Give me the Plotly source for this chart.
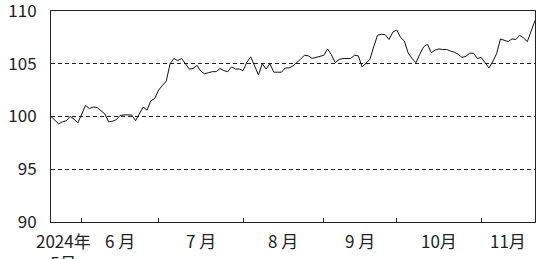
import plotly.graph_objects as go

# Index values (trading days, late May 2024 .. late Nov 2024)
values = [
    100.0, 99.6, 99.3, 99.5, 99.6, 100.0, 99.75, 99.4,
    100.2, 101.05, 100.75, 100.9, 100.85, 100.55, 100.25, 99.5, 99.55, 99.7,
    100.1, 100.15, 100.15, 100.15, 99.6, 100.3, 100.9, 100.6, 101.5, 101.7,
    102.5, 102.95, 103.35, 105.0, 105.5, 105.3, 105.5, 105.0, 104.5, 104.55,
    104.85, 104.3, 104.05, 104.15, 104.25, 104.25, 104.55, 104.35, 104.25, 104.7,
    104.5, 104.5,
    104.35, 105.15, 105.65, 104.8, 103.95, 105.0, 104.5, 105.0, 104.2, 104.2,
    104.2, 104.6, 104.6, 104.8, 105.1, 105.45, 105.8, 105.75, 105.5, 105.6, 105.75,
    105.8, 106.4, 105.85, 105.1, 105.4, 105.5, 105.5, 105.5, 105.8, 105.75,
    104.7, 105.05, 105.4, 106.6, 107.7, 107.8, 107.75, 107.3, 108.0,
    108.2, 107.5, 107.15, 106.0, 105.5, 105.1, 105.9, 106.6, 106.85, 106.05,
    106.3, 106.4, 106.35, 106.35, 106.2, 106.1, 105.9, 105.6, 105.7, 106.0,
    106.0, 105.5,
    105.6, 105.1, 104.6, 105.2, 105.95, 107.35, 107.2, 107.1, 107.35, 107.3,
    107.7, 107.45, 107.1, 108.2, 109.1,
]
day_index = list(range(len(values)))

# first trading day index of each month (June .. November)
month_start_idx = [8, 28, 50, 71, 90, 112]
month_labels = ["2024年<br>5月", "6 月", "7 月", "8 月", "9 月", "10月", "11月"]
y_ticks = [90, 95, 100, 105, 110]

FONT = "Noto Sans CJK JP, Noto Sans, sans-serif"

fig = go.Figure()
fig.add_trace(go.Scatter(
    x=day_index, y=values, mode="lines",
    line=dict(color="#111111", width=1),
    hoverinfo="skip", showlegend=False, cliponaxis=False,
))

bounds = [-1.5] + month_start_idx + [day_index[-1]]
annotations = []
for k, lab in enumerate(month_labels):
    cx = (bounds[k] + bounds[k + 1]) / 2
    annotations.append(dict(
        x=cx, y=0, xref="x", yref="paper", text=lab, showarrow=False,
        xanchor="center", yanchor="top", yshift=-4,
        font=dict(family=FONT, size=17, color="#222222"),
    ))

fig.update_layout(
    width=537, height=259,
    margin=dict(l=51, r=2, t=11, b=37, autoexpand=False),
    paper_bgcolor="white", plot_bgcolor="white",
    annotations=annotations,
    xaxis=dict(
        range=[0, day_index[-1]],
        tickvals=month_start_idx, ticktext=[""] * len(month_start_idx),
        ticks="inside", ticklen=4, tickcolor="#222222", tickwidth=1,
        showgrid=False, zeroline=False,
        showline=True, linecolor="#222222", linewidth=1, mirror=True,
    ),
    yaxis=dict(
        range=[90, 110], tickvals=y_ticks,
        ticks="", showgrid=True, gridcolor="#222222", gridwidth=1,
        griddash="4px,3px", zeroline=False,
        showline=True, linecolor="#222222", linewidth=1, mirror=True,
        ticklabelstandoff=10, ticklabeloverflow="allow",
        tickfont=dict(family=FONT, size=17, color="#222222"),
    ),
)

fig.write_html(
    "out.html",
    config={"displayModeBar": False, "staticPlot": True},
    post_script="document.body.style.margin='0';document.body.style.overflow='hidden';",
)
